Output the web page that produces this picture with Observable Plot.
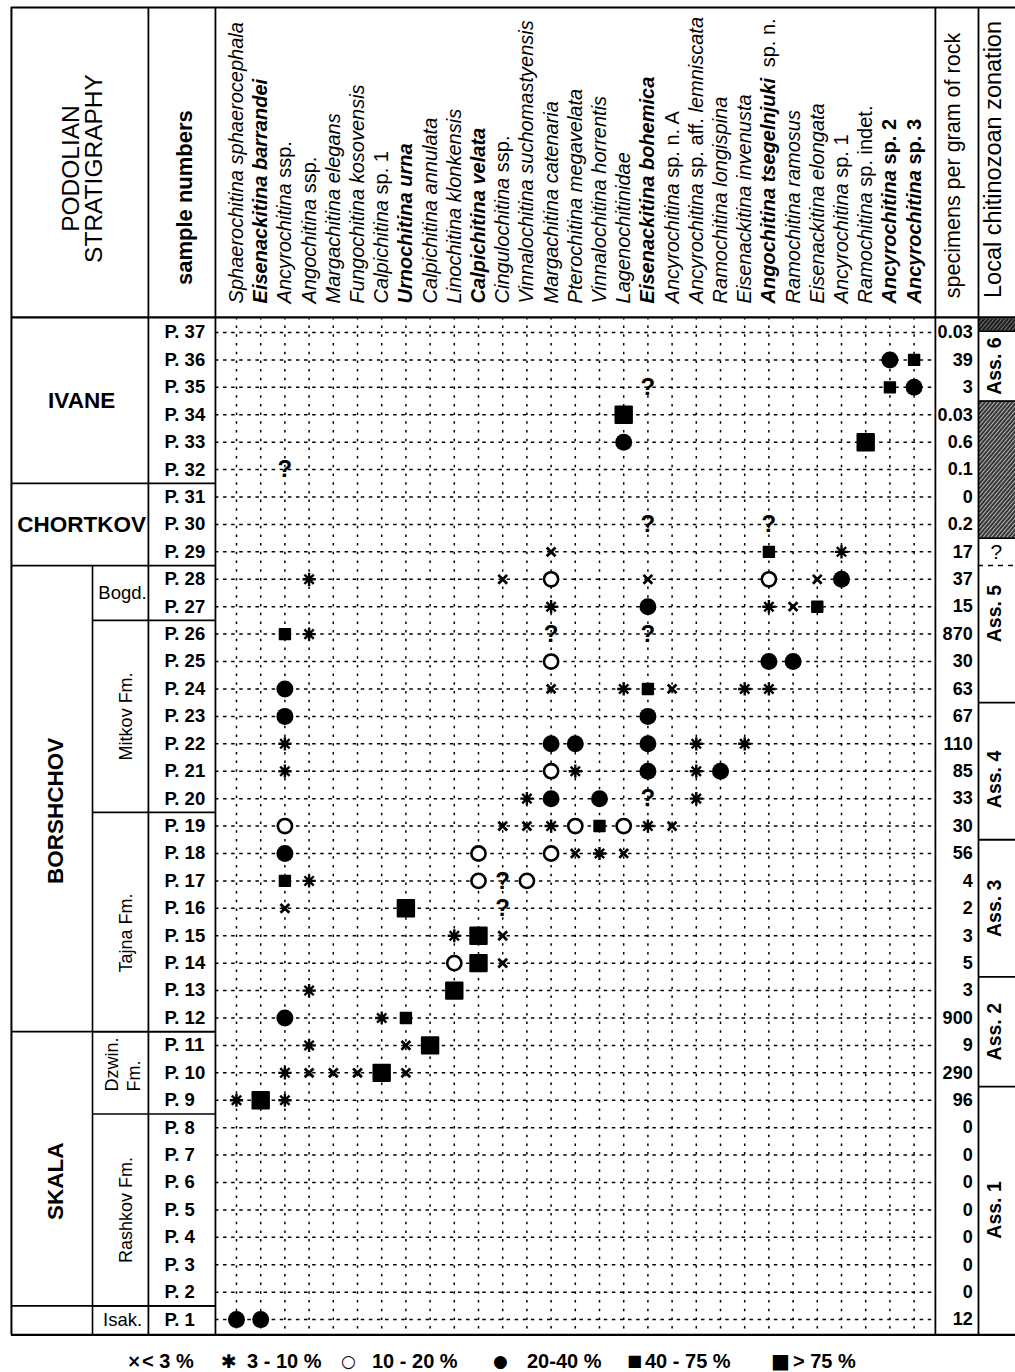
<!DOCTYPE html>
<html><head><meta charset="utf-8">
<script src="https://cdn.jsdelivr.net/npm/d3@7"></script>
<script src="https://cdn.jsdelivr.net/npm/@observablehq/plot@0.6"></script>
<style>
body{margin:0;background:#fff;font-family:"Liberation Sans",Arial,sans-serif;}
#chart{position:relative;width:1015px;height:1372px;overflow:hidden;}
#legend{position:absolute;top:1349px;left:0;width:1015px;height:24px;font-family:"Liberation Sans",Arial,sans-serif;font-weight:bold;font-size:20px;line-height:24px;}
#legend span{position:absolute;top:0;white-space:pre;}
#legend .sym{font-family:"DejaVu Sans",sans-serif;}
</style></head><body><div id="chart"></div>
<script>
// ---------------- DATA ----------------
const species = [
  "Sphaerochitina sphaerocephala","Eisenackitina barrandei","Ancyrochitina ssp.","Angochitina ssp.",
  "Margachitina elegans","Fungochitina kosovensis","Calpichitina sp. 1","Urnochitina urna",
  "Calpichitina annulata","Linochitina klonkensis","Calpichitina velata","Cingulochitina ssp.",
  "Vinnalochitina suchomastyensis","Margachitina catenaria","Pterochitina megavelata","Vinnalochitina horrentis",
  "Lagenochitinidae","Eisenackitina bohemica","Ancyrochitina sp. n. A","Ancyrochitina sp. aff. lemniscata",
  "Ramochitina longispina","Eisenackitina invenusta","Angochitina tsegelnjuki sp. n.","Ramochitina ramosus",
  "Eisenackitina elongata","Ancyrochitina sp. 1","Ramochitina sp. indet.","Ancyrochitina sp. 2","Ancyrochitina sp. 3"
];
const boldSpecies = ["Eisenackitina barrandei","Urnochitina urna","Calpichitina velata","Eisenackitina bohemica",
  "Angochitina tsegelnjuki sp. n.","Ancyrochitina sp. 2","Ancyrochitina sp. 3"];
const samples = ["P. 37","P. 36","P. 35","P. 34","P. 33","P. 32","P. 31","P. 30","P. 29","P. 28","P. 27","P. 26","P. 25",
  "P. 24","P. 23","P. 22","P. 21","P. 20","P. 19","P. 18","P. 17","P. 16","P. 15","P. 14","P. 13","P. 12","P. 11",
  "P. 10","P. 9","P. 8","P. 7","P. 6","P. 5","P. 4","P. 3","P. 2","P. 1"];
const specimens = [0.03,39,3,0.03,0.6,0.1,0,0.2,17,37,15,870,30,63,67,110,85,33,30,56,4,2,3,5,3,900,9,290,96,0,0,0,0,0,0,0,12];
// codes: x <3%, a 3-10%, o 10-20%, c 20-40%, s 40-75%, S >75%, ? uncertain
const occurrences = [
 ["P. 36",28,"c"],["P. 36",29,"s"],
 ["P. 35",18,"?"],["P. 35",28,"s"],["P. 35",29,"c"],
 ["P. 34",17,"S"],
 ["P. 33",17,"c"],["P. 33",27,"S"],
 ["P. 32",3,"?"],
 ["P. 30",18,"?"],["P. 30",23,"?"],
 ["P. 29",14,"x"],["P. 29",23,"s"],["P. 29",26,"a"],
 ["P. 28",4,"a"],["P. 28",12,"x"],["P. 28",14,"o"],["P. 28",18,"x"],["P. 28",23,"o"],["P. 28",25,"x"],["P. 28",26,"c"],
 ["P. 27",14,"a"],["P. 27",18,"c"],["P. 27",23,"a"],["P. 27",24,"x"],["P. 27",25,"s"],
 ["P. 26",3,"s"],["P. 26",4,"a"],["P. 26",14,"?"],["P. 26",18,"?"],
 ["P. 25",14,"o"],["P. 25",23,"c"],["P. 25",24,"c"],
 ["P. 24",3,"c"],["P. 24",14,"x"],["P. 24",17,"a"],["P. 24",18,"s"],["P. 24",19,"x"],["P. 24",22,"a"],["P. 24",23,"a"],
 ["P. 23",3,"c"],["P. 23",18,"c"],
 ["P. 22",3,"a"],["P. 22",14,"c"],["P. 22",15,"c"],["P. 22",18,"c"],["P. 22",20,"a"],["P. 22",22,"a"],
 ["P. 21",3,"a"],["P. 21",14,"o"],["P. 21",15,"a"],["P. 21",18,"c"],["P. 21",20,"a"],["P. 21",21,"c"],
 ["P. 20",13,"a"],["P. 20",14,"c"],["P. 20",16,"c"],["P. 20",18,"?"],["P. 20",20,"a"],
 ["P. 19",3,"o"],["P. 19",12,"x"],["P. 19",13,"x"],["P. 19",14,"a"],["P. 19",15,"o"],["P. 19",16,"s"],["P. 19",17,"o"],["P. 19",18,"a"],["P. 19",19,"x"],
 ["P. 18",3,"c"],["P. 18",11,"o"],["P. 18",14,"o"],["P. 18",15,"x"],["P. 18",16,"a"],["P. 18",17,"x"],
 ["P. 17",3,"s"],["P. 17",4,"a"],["P. 17",11,"o"],["P. 17",12,"?"],["P. 17",13,"o"],
 ["P. 16",3,"x"],["P. 16",8,"S"],["P. 16",12,"?"],
 ["P. 15",10,"a"],["P. 15",11,"S"],["P. 15",12,"x"],
 ["P. 14",10,"o"],["P. 14",11,"S"],["P. 14",12,"x"],
 ["P. 13",4,"a"],["P. 13",10,"S"],
 ["P. 12",3,"c"],["P. 12",7,"a"],["P. 12",8,"s"],
 ["P. 11",4,"a"],["P. 11",8,"x"],["P. 11",9,"S"],
 ["P. 10",3,"a"],["P. 10",4,"x"],["P. 10",5,"x"],["P. 10",6,"x"],["P. 10",7,"S"],["P. 10",8,"x"],
 ["P. 9",1,"a"],["P. 9",2,"S"],["P. 9",3,"a"],
 ["P. 1",1,"c"],["P. 1",2,"c"]
];
const stratUnits = [
  {name:"IVANE", from:"P. 37", to:"P. 32"},
  {name:"CHORTKOV", from:"P. 31", to:"P. 29"},
  {name:"BORSHCHOV", from:"P. 28", to:"P. 12"},
  {name:"SKALA", from:"P. 11", to:"P. 2"},
  {name:"", from:"P. 1", to:"P. 1"}
];
const formations = [
  {name:"Bogd.", from:"P. 28", to:"P. 27"},
  {name:"Mitkov Fm.", from:"P. 26", to:"P. 20"},
  {name:"Tajna Fm.", from:"P. 19", to:"P. 12"},
  {name:"Dzwin.\nFm.", from:"P. 11", to:"P. 9"},
  {name:"Rashkov Fm.", from:"P. 8", to:"P. 2"},
  {name:"Isak.", from:"P. 1", to:"P. 1"}
];
const zones = [
  {label:"", from:"P. 37", to:"P. 37", barren:true},
  {label:"Ass. 6", from:"P. 36", to:"P. 35"},
  {label:"", from:"P. 34", to:"P. 30", barren:true},
  {label:"?", from:"P. 29", to:"P. 29", uncertain:true},
  {label:"Ass. 5", from:"P. 28", to:"P. 24"},
  {label:"Ass. 4", from:"P. 23", to:"P. 19"},
  {label:"Ass. 3", from:"P. 18", to:"P. 14"},
  {label:"Ass. 2", from:"P. 13", to:"P. 10"},
  {label:"Ass. 1", from:"P. 9", to:"P. 1"}
];
const legendItems = [
  {sym:"×", label:"< 3 %"},{sym:"✱", label:"3 - 10 %"},{sym:"○", label:"10 - 20 %"},
  {sym:"●", label:"20-40 %"},{sym:"■", label:"40 - 75 %"},{sym:"■", label:"> 75 %"}
];

// ---------------- LAYOUT ----------------
const W = 1015, H = 1345;
const U = {left:-8.30, sub:-4.95, sample:-2.64, grid:0.13, spec:29.88, zone:31.66, right:33.19};
const V = {top:-11.85, head:-0.55, bottom:36.56};
const rowOf = new Map(samples.map((s,i)=>[s,i]));
const rTop = d => rowOf.get(d.from) - 0.5, rBot = d => rowOf.get(d.to) + 0.5, rMid = d => (rTop(d)+rBot(d))/2;
const span = d => rowOf.get(d.to) - rowOf.get(d.from);
// zone boxes: the single barren top row is drawn as a thin band
const zTop = (d,i) => i > 0 && zones[i-1].barren && span(zones[i-1]) === 0 ? rTop(zones[i-1]) + 0.45 : rTop(d);
const zBot = d => d.barren && span(d) === 0 ? rTop(d) + 0.45 : rBot(d);
const occ = occurrences.map(([s,c,code]) => ({row:rowOf.get(s), col:c, code}));
const byCode = k => occ.filter(d => d.code === k);

const Rz = size => Math.sqrt(size/Math.PI);
const symTimes = {draw(ctx,size){const r=Rz(size); ctx.moveTo(-r,-r);ctx.lineTo(r,r);ctx.moveTo(-r,r);ctx.lineTo(r,-r);}};
const symStar = {draw(ctx,size){const r=Rz(size), d=r*Math.SQRT1_2; ctx.moveTo(-r,0);ctx.lineTo(r,0);ctx.moveTo(0,-r);ctx.lineTo(0,r);ctx.moveTo(-d,-d);ctx.lineTo(d,d);ctx.moveTo(-d,d);ctx.lineTo(d,-d);}};
const symSquare = {draw(ctx,size){const r=Rz(size); ctx.rect(-r,-r,2*r,2*r);}};

const vFrame = [
  {x:U.left, y1:V.top, y2:V.bottom, w:2},
  {x:U.sample, y1:V.top, y2:V.bottom, w:1.8},
  {x:U.grid, y1:V.top, y2:V.bottom, w:1.8},
  {x:U.spec, y1:V.top, y2:V.bottom, w:1.8},
  {x:U.zone, y1:V.top, y2:V.bottom, w:1.8},
  {x:U.sub, y1:rTop(formations[0]), y2:V.bottom, w:1.6}
];
const hFrame = [
  {y:V.top, x1:U.left, x2:U.right, w:2},
  {y:V.head, x1:U.left, x2:U.right, w:2.2},
  {y:V.bottom, x1:U.left, x2:U.right, w:2.2},
  ...stratUnits.slice(0,-1).map(d => ({y:rBot(d), x1:U.left, x2:U.grid, w:1.8})),
  ...formations.slice(0,-1).map(d => ({y:rBot(d), x1:U.sub, x2:U.grid, w:1.6}))
];
const zoneLines = zones.slice(0,-1).map(d => ({y:zBot(d), dashed:!!d.uncertain}));
const zoneLabels = zones.map((d,i) => ({...d, y:(zTop(d,i)+zBot(d))/2}));

const chart = Plot.plot({
  width: W, height: H, margin: 0,
  x: {type:"linear", domain:[-8.752, 33.19], range:[0, W], axis:null},
  y: {type:"linear", domain:[-12.108, 36.944], range:[0, H], axis:null},
  style: {fontFamily:"'Liberation Sans', Arial, sans-serif", background:"white", color:"black"},
  marks: [
    Plot.rect(zones.filter(d=>d.barren && span(d)===0), {x1:U.zone, x2:U.right, y1:rTop, y2:zBot, fill:"url(#hatchDark)"}),
    Plot.rect(zones.filter(d=>d.barren && span(d)>0), {x1:U.zone, x2:U.right, y1:rTop, y2:rBot, fill:"url(#hatch)"}),
    Plot.ruleX(species.map((d,i)=>i+1), {y1:V.head, y2:V.bottom, stroke:"black", strokeWidth:1.5, strokeDasharray:"2.5,6.2"}),
    Plot.ruleY(samples.map((d,i)=>i), {x1:U.grid, x2:U.spec, stroke:"black", strokeWidth:1.5, strokeDasharray:"3.5,4.6"}),
    Plot.ruleX(vFrame, {x:"x", y1:"y1", y2:"y2", strokeWidth:"w", stroke:"black"}),
    Plot.ruleY(hFrame, {y:"y", x1:"x1", x2:"x2", strokeWidth:"w", stroke:"black"}),
    Plot.ruleY(zoneLines.filter(d=>!d.dashed), {y:"y", x1:U.zone, x2:U.right, stroke:"black", strokeWidth:1.8}),
    Plot.ruleY(zoneLines.filter(d=>d.dashed), {y:"y", x1:U.zone, x2:U.right, stroke:"black", strokeWidth:1.6, strokeDasharray:"5,5"}),
    Plot.dot(byCode("x"), {x:"col", y:"row", r:4.4, symbol:symTimes, stroke:"black", strokeWidth:2.8, fill:"none"}),
    Plot.dot(byCode("a"), {x:"col", y:"row", r:6.6, symbol:symStar, stroke:"black", strokeWidth:2.4, fill:"none"}),
    Plot.dot(byCode("o"), {x:"col", y:"row", r:7.1, symbol:"circle", stroke:"black", strokeWidth:2.6, fill:"white"}),
    Plot.dot(byCode("c"), {x:"col", y:"row", r:8.5, symbol:"circle", fill:"black", stroke:"none"}),
    Plot.dot(byCode("s"), {x:"col", y:"row", r:5.4, symbol:symSquare, fill:"black", stroke:"black", strokeWidth:1.6, strokeLinejoin:"round"}),
    Plot.dot(byCode("S"), {x:"col", y:"row", r:8.2, symbol:symSquare, fill:"black", stroke:"black", strokeWidth:2, strokeLinejoin:"round"}),
    Plot.text(byCode("?"), {x:"col", y:"row", text:()=>"?", fontSize:24, fontWeight:"bold", fill:"black"}),
    Plot.text(species, {x:(d,i)=>i+1, y:-1.06, rotate:-90, textAnchor:"start", fontSize:20, fill:"black"}),
    Plot.text(["PODOLIAN\nSTRATIGRAPHY"], {x:-5.34, y:-5.98, rotate:-90, fontSize:24.5, lineHeight:0.95, fill:"black"}),
    Plot.text(["sample numbers"], {x:-1.11, y:-4.92, rotate:-90, fontSize:22, fontWeight:"bold", fill:"black"}),
    Plot.text(["specimens per gram of rock"], {x:30.63, y:-6.09, rotate:-90, fontSize:21.5, fill:"black"}),
    Plot.text(["Local chitinozoan zonation"], {x:32.3, y:-6.31, rotate:-90, fontSize:23.5, fill:"black"}),
    Plot.text(samples, {x:-1.98, y:(d,i)=>i, textAnchor:"start", fontSize:18.5, fontWeight:"bold", fill:"black"}),
    Plot.text(specimens, {x:31.42, y:(d,i)=>i, text:d=>String(d), textAnchor:"end", fontSize:18, fontWeight:"bold", fill:"black"}),
    Plot.text(stratUnits.filter(d=>d.name && span(d)<9), {x:-5.40, y:rMid, text:"name", fontSize:22.5, fontWeight:"bold", fill:"black"}),
    Plot.text(stratUnits.filter(d=>d.name && span(d)>=9), {x:-6.48, y:d=>rMid(d)+0.45, text:"name", rotate:-90, fontSize:22.5, fontWeight:"bold", fill:"black"}),
    Plot.text(formations.filter(d=>span(d)<2), {x:-3.71, y:rMid, text:"name", fontSize:18.5, fill:"black"}),
    Plot.text(formations.filter(d=>span(d)>=2 && !d.name.includes("\n")), {x:-3.55, y:d=>rMid(d)+(span(d)>6?0.4:0), text:"name", rotate:-90, fontSize:18, fill:"black"}),
    Plot.text(formations.filter(d=>d.name.includes("\n")), {x:-3.72, y:d=>rBot(d)-0.82, text:"name", rotate:-90, textAnchor:"start", lineHeight:1.2, fontSize:18, fill:"black"}),
    Plot.text(zoneLabels.filter(d=>d.label.startsWith("Ass")), {x:32.32, y:d=>d.y+(d.label==="Ass. 5"?-0.75:d.label==="Ass. 4"?0.3:0), text:"label", rotate:-90, fontSize:19.5, fontWeight:"bold", fill:"black"}),
    Plot.text(zoneLabels.filter(d=>d.label==="?"), {x:32.4, y:"y", text:"label", fontSize:21, fill:"black"})
  ]
});

const svg = d3.select(chart);
const defs = svg.insert("defs", ":first-child");
function hatch(id, base, line, lw) {
  const p = defs.append("pattern").attr("id", id).attr("patternUnits","userSpaceOnUse")
    .attr("width",3).attr("height",3).attr("patternTransform","rotate(40)");
  p.append("rect").attr("width",3).attr("height",3).attr("fill",base);
  p.append("rect").attr("width",lw).attr("height",3).attr("fill",line);
}
hatch("hatch", "#2e2e2e", "#b5b5b5", 1.1);
hatch("hatchDark", "#1c1c1c", "#8a8a8a", 0.8);

// species names: italic genus/epithet, roman "sp.", "ssp.", "aff." etc.
const roman = /^(ssp\.|sp\.|n\.|aff\.|indet\.|A|\d+)$/;
svg.selectAll("text").filter(function(){ return species.includes(this.textContent); }).each(function(){
  const t = d3.select(this);
  const name = this.textContent;
  const bold = boldSpecies.includes(name);
  const words = name.split(" ");
  t.text(null);
  words.forEach((w,k) => {
    const isRoman = roman.test(w);
    const isNewMark = name.endsWith(" sp. n.") && k >= words.length-2;
    const ts = t.append("tspan").text((k ? " " : "") + w)
      .attr("font-style", isRoman ? "normal" : "italic")
      .attr("font-weight", bold && !isNewMark ? "bold" : "normal");
    if (isNewMark && k === words.length-2) ts.attr("dx", 5);
  });
});

document.getElementById("chart").appendChild(chart);

const legend = document.createElement("div");
legend.id = "legend";
const symPos = [[127,17],[221,19],[341,17],[493,17],[627,16],[771,20]];
const labPos = [142,247,372,527,645,793];
legendItems.forEach((d,i) => {
  const s = document.createElement("span");
  s.className = "sym"; s.textContent = d.sym;
  s.style.left = symPos[i][0]+"px"; s.style.fontSize = symPos[i][1]+"px";
  legend.appendChild(s);
  const l = document.createElement("span");
  l.textContent = d.label; l.style.left = labPos[i]+"px";
  legend.appendChild(l);
});
document.getElementById("chart").appendChild(legend);
</script></body></html>
